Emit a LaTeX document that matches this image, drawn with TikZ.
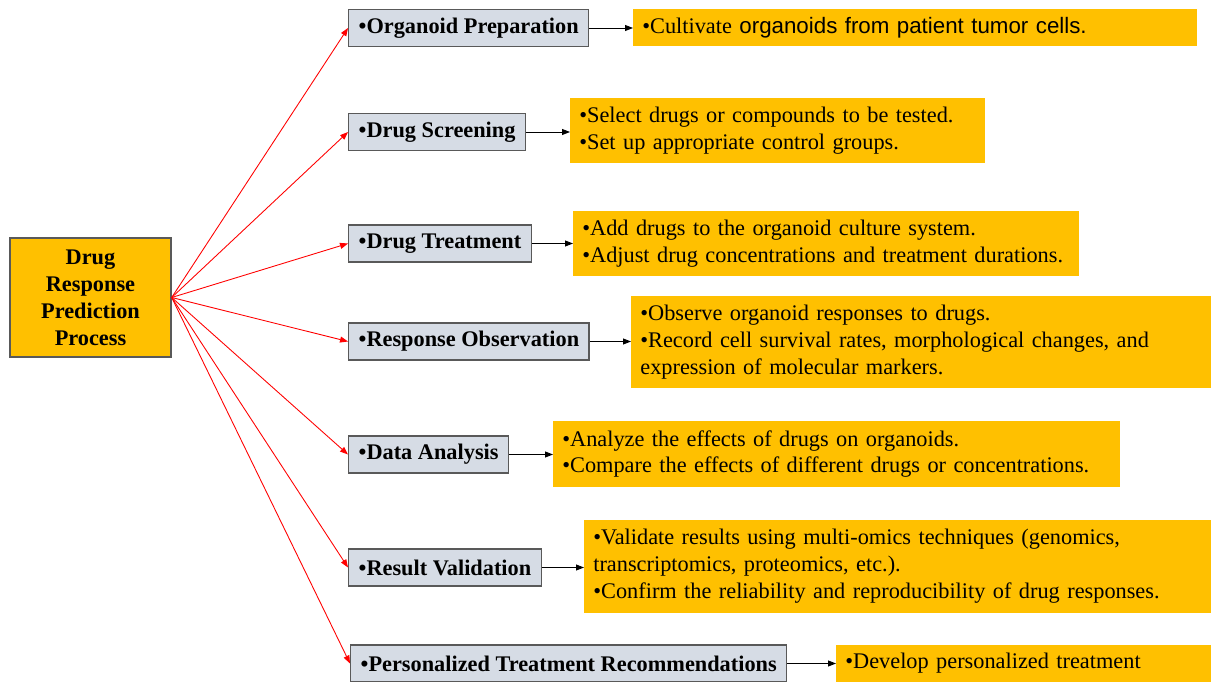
\documentclass[tikz,border=0pt]{standalone}
\usepackage{fontspec}
\setmainfont{Liberation Serif}
\newfontfamily\arialfont{Liberation Sans}
\usetikzlibrary{arrows.meta}
\definecolor{boxorange}{HTML}{FFC000}
\definecolor{boxgray}{HTML}{D6DCE5}
\definecolor{edgegray}{HTML}{595959}
\newcommand{\txtsize}{\fontsize{12.7}{15.3}\selectfont}

\begin{document}
\begin{tikzpicture}[
  >={Triangle[length=1.6mm, width=1.2mm]},
  hub/.style={draw=edgegray, fill=boxorange, line width=0.8pt, align=center,
    font=\txtsize\bfseries, minimum width=3.22cm, minimum height=2.38cm},
  stage/.style={draw=edgegray, fill=boxgray, line width=0.8pt, anchor=west,
    font=\txtsize\bfseries, minimum height=0.74cm, inner xsep=0.2cm},
  detail/.style={fill=boxorange, anchor=west, align=left, font=\txtsize,
    inner xsep=0.18cm, inner ysep=0pt},
  link/.style={->, red, line width=0.5pt},
  feed/.style={->, black, line width=0.5pt}
]
\useasboundingbox (0,0) rectangle (24.22,13.62);
% the process box on the left
\node[hub] (hub) at (1.81,7.67) {Drug\\ Response\\ Prediction\\ Process};
% the seven steps
\node[stage] (g1) at (6.96,13.06) {•Organoid Preparation};
\node[stage] (g2) at (6.96,10.98) {•Drug Screening};
\node[stage] (g3) at (6.96,8.75) {•Drug Treatment};
\node[stage] (g4) at (6.96,6.79) {•Response Observation};
\node[stage] (g5) at (6.96,4.53) {•Data Analysis};
\node[stage] (g6) at (6.96,2.27) {•Result Validation};
\node[stage] (g7) at (7.00,0.35) {•Personalized Treatment Recommendations};
% what each step does
\node[detail, text width=10.92cm, minimum height=0.74cm] (d1) at (12.66,13.07)
  {•Cultivate {\arialfont organoids from patient tumor cells.}};
\node[detail, text width=7.94cm, minimum height=1.30cm] (d2) at (11.40,11.01)
  {•Select drugs or compounds to be tested.\\ •Set up appropriate control groups.};
\node[detail, text width=9.76cm, minimum height=1.30cm] (d3) at (11.46,8.75)
  {•Add drugs to the organoid culture system.\\
   •Adjust drug concentrations and treatment durations.};
\node[detail, text width=11.24cm, minimum height=1.84cm] (d4) at (12.62,6.78)
  {•Observe organoid responses to drugs.\\
   •Record cell survival rates, morphological changes, and\\
   expression of molecular markers.};
\node[detail, text width=10.98cm, minimum height=1.32cm] (d5) at (11.06,4.54)
  {•Analyze the effects of drugs on organoids.\\
   •Compare the effects of different drugs or concentrations.};
\node[detail, text width=12.18cm, minimum height=1.86cm] (d6) at (11.68,2.29)
  {•Validate results using multi-omics techniques (genomics,\\
   transcriptomics, proteomics, etc.).\\
   •Confirm the reliability and reproducibility of drug responses.};
\node[detail, text width=7.14cm, minimum height=0.74cm] (d7) at (16.72,0.35)
  {•Develop personalized treatment};
% connectors
\foreach \i in {1,...,7}
  \draw[link] (hub.east) -- (g\i.west);
\foreach \i in {1,...,7}
  \draw[feed] (g\i.east) -- (g\i.east -| d\i.west);
\end{tikzpicture}
\end{document}
